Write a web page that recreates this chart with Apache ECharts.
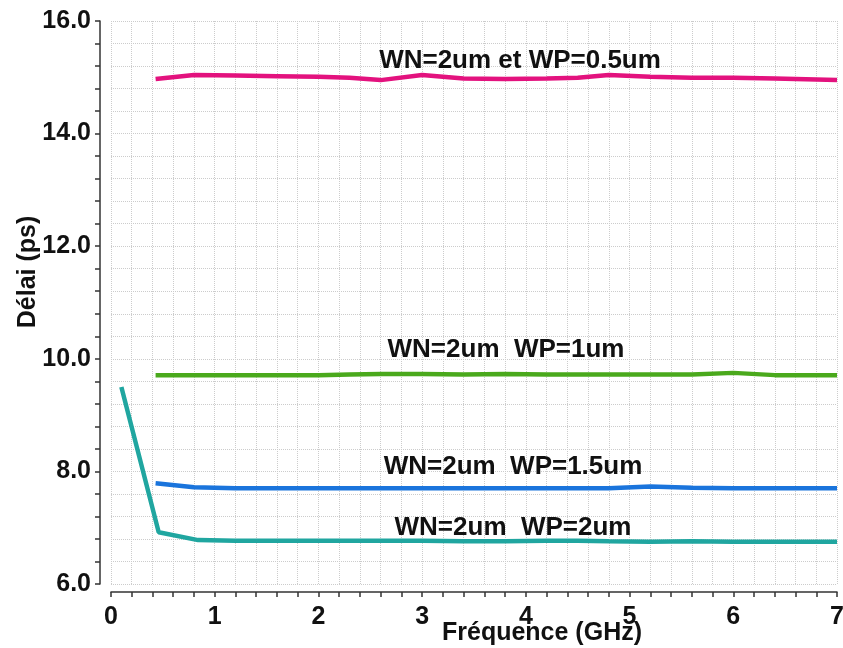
<!DOCTYPE html>
<html>
<head>
<meta charset="utf-8">
<script src="https://cdn.jsdelivr.net/npm/echarts@6/dist/echarts.min.js"></script>
<style>
  html, body { margin: 0; padding: 0; background: #fff; }
  #chart { width: 843px; height: 648px; }
</style>
</head>
<body>
<div id="chart"></div>
<script>
// Frequency sweep points (GHz)
const freqMain = [0.43, 0.8, 1.2, 1.6, 2.0, 2.3, 2.6, 3.0, 3.4, 3.8, 4.2, 4.5, 4.8, 5.2, 5.6, 6.0, 6.4, 6.8, 7.0];
const freqWp2 = [0.1, 0.46, 0.84, 1.2, 1.6, 2.0, 2.3, 2.6, 3.0, 3.4, 3.8, 4.2, 4.5, 4.8, 5.2, 5.6, 6.0, 6.4, 6.8, 7.0];

// Delay (ps) for WN = 2um and several WP widths
const delayWp05 = [14.97, 15.04, 15.03, 15.02, 15.01, 14.99, 14.95, 15.04, 14.98, 14.97, 14.98, 14.99, 15.04, 15.01, 14.99, 14.99, 14.98, 14.96, 14.95];
const delayWp1  = [9.71, 9.71, 9.71, 9.71, 9.71, 9.72, 9.73, 9.73, 9.72, 9.73, 9.72, 9.72, 9.72, 9.72, 9.72, 9.75, 9.71, 9.71, 9.71];
const delayWp15 = [7.79, 7.72, 7.70, 7.70, 7.70, 7.70, 7.70, 7.70, 7.70, 7.70, 7.70, 7.70, 7.70, 7.73, 7.71, 7.70, 7.70, 7.70, 7.70];
const delayWp2  = [9.5, 6.92, 6.78, 6.77, 6.77, 6.77, 6.77, 6.77, 6.77, 6.76, 6.76, 6.77, 6.77, 6.76, 6.75, 6.76, 6.75, 6.75, 6.75, 6.75];

// Curve captions
const captions = [
  { text: 'WN=2um et WP=0.5um', x: 520, y: 61 },
  { text: 'WN=2um  WP=1um', x: 506, y: 350 },
  { text: 'WN=2um  WP=1.5um', x: 513, y: 467 },
  { text: 'WN=2um  WP=2um', x: 513, y: 528 }
];

const FONT = '"Liberation Sans", Arial, Helvetica, sans-serif';

function pairs(xs, ys) { return xs.map((x, i) => [x, ys[i]]); }

function lineSeries(xs, ys, color) {
  return {
    type: 'line',
    data: pairs(xs, ys),
    showSymbol: false,
    symbol: 'none',
    smooth: false,
    lineStyle: { color: color, width: 4.5 },
    z: 3
  };
}

const chart = echarts.init(document.getElementById('chart'), null, { renderer: 'canvas' });

chart.setOption({
  animation: false,
  backgroundColor: '#ffffff',
  grid: { left: 111, right: 6, top: 21, bottom: 64, containLabel: false, outerBoundsMode: 'none' },
  xAxis: {
    type: 'value',
    min: 0, max: 7, interval: 0.2,
    offset: 8,
    axisLine: { show: true, onZero: false, lineStyle: { color: '#333', width: 1.5 } },
    axisTick: { show: true, length: 5, lineStyle: { color: '#333', width: 1.5 } },
    axisLabel: {
      margin: 13,
      color: '#111', fontSize: 25, fontWeight: 'bold', fontFamily: FONT,
      formatter: v => (Math.abs(v - Math.round(v)) < 1e-6 ? String(Math.round(v)) : '')
    },
    splitLine: { show: true, lineStyle: { color: '#cccccc', type: 'dotted', width: 1 } }
  },
  yAxis: {
    type: 'value',
    min: 6, max: 16, interval: 0.4,
    offset: 11,
    axisLine: { show: true, onZero: false, lineStyle: { color: '#333', width: 1.5 } },
    axisTick: { show: true, length: 5, lineStyle: { color: '#333', width: 1.5 } },
    axisLabel: {
      margin: 9,
      color: '#111', fontSize: 25, fontWeight: 'bold', fontFamily: FONT,
      formatter: v => (Math.abs(v / 2 - Math.round(v / 2)) < 1e-6 ? v.toFixed(1) : '')
    },
    splitLine: { show: true, lineStyle: { color: '#cccccc', type: 'dotted', width: 1 } }
  },
  series: [
    lineSeries(freqMain, delayWp05, '#e3127e'),
    lineSeries(freqMain, delayWp1, '#4aa91c'),
    lineSeries(freqMain, delayWp15, '#1a74dc'),
    lineSeries(freqWp2, delayWp2, '#20a6a0')
  ],
  graphic: [
    {
      type: 'text', x: 542, y: 633,
      style: { text: 'Fréquence (GHz)', fill: '#111', font: 'bold 25px ' + FONT, textAlign: 'center', textVerticalAlign: 'middle' },
      z: 10
    },
    {
      type: 'text', x: 28, y: 272, rotation: Math.PI / 2,
      style: { text: 'Délai (ps)', fill: '#111', font: 'bold 25px ' + FONT, textAlign: 'center', textVerticalAlign: 'middle' },
      z: 10
    }
  ].concat(captions.map(c => ({
    type: 'text', x: c.x, y: c.y,
    style: { text: c.text, fill: '#111', font: 'bold 26px ' + FONT, textAlign: 'center', textVerticalAlign: 'middle' },
    z: 10
  })))
});
</script>
</body>
</html>
